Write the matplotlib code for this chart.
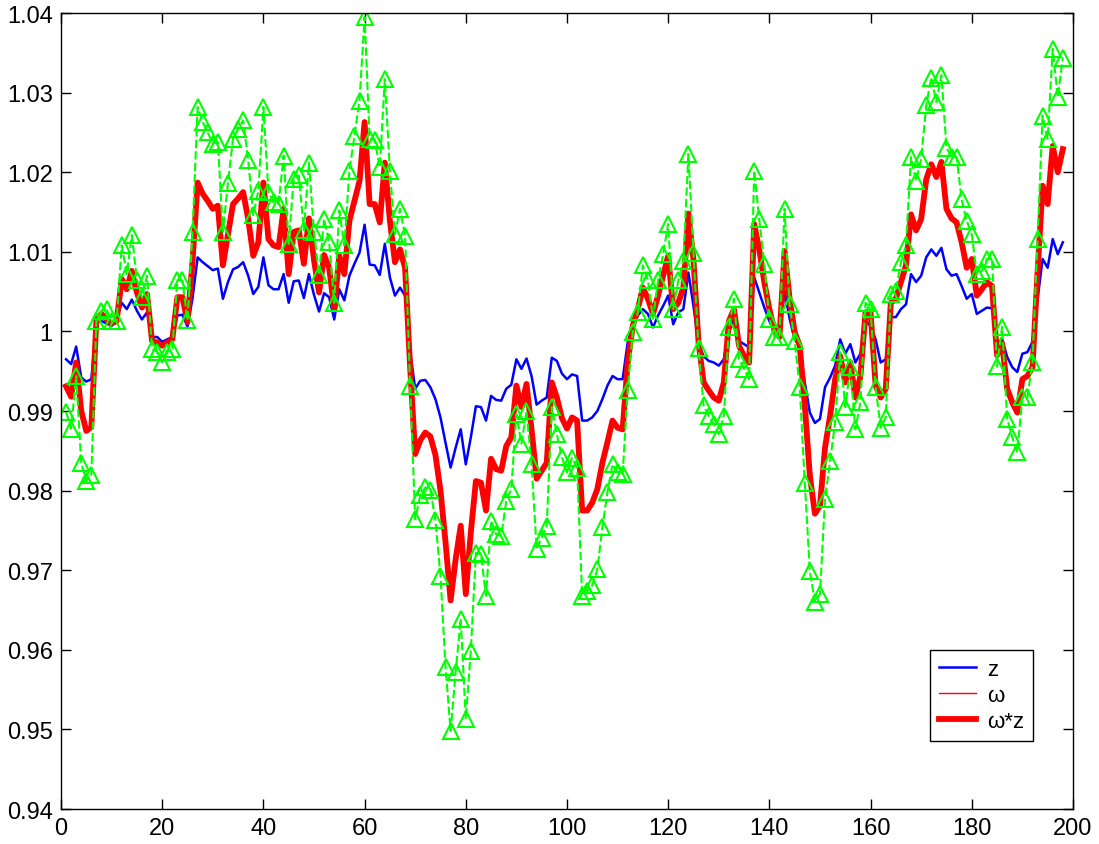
import numpy as np
import matplotlib
matplotlib.use("Agg")
import matplotlib.pyplot as plt

# values, sample index 1..198
z = [0.9965, 0.9959, 0.9981, 0.9942, 0.9937, 0.9940, 1.0011, 1.0013, 1.0010, 1.0007,
     1.0015, 1.0036, 1.0028, 1.0040, 1.0026, 1.0015, 1.0024, 0.9993, 0.9993, 0.9987,
     0.9990, 0.9993, 1.0020, 1.0021, 1.0006, 1.0042, 1.0093, 1.0087, 1.0082, 1.0077,
     1.0079, 1.0041, 1.0062, 1.0078, 1.0081, 1.0087, 1.0070, 1.0047, 1.0056, 1.0093,
     1.0058, 1.0053, 1.0053, 1.0072, 1.0036, 1.0063, 1.0064, 1.0042, 1.0072, 1.0046,
     1.0025, 1.0048, 1.0043, 1.0015, 1.0053, 1.0039, 1.0070, 1.0085, 1.0099, 1.0134,
     1.0084, 1.0083, 1.0071, 1.0110, 1.0068, 1.0045, 1.0055, 1.0045, 0.9975, 0.9928,
     0.9938, 0.9939, 0.9930, 0.9915, 0.9892, 0.9860, 0.9829, 0.9854, 0.9877, 0.9833,
     0.9867, 0.9906, 0.9905, 0.9888, 0.9919, 0.9914, 0.9913, 0.9928, 0.9933, 0.9965,
     0.9953, 0.9966, 0.9944, 0.9908, 0.9913, 0.9917, 0.9967, 0.9963, 0.9947, 0.9940,
     0.9946, 0.9944, 0.9888, 0.9888, 0.9892, 0.9900, 0.9915, 0.9932, 0.9944, 0.9940,
     0.9940, 0.9986, 1.0007, 1.0020, 1.0028, 1.0022, 1.0005, 1.0020, 1.0032, 1.0045,
     1.0009, 1.0024, 1.0028, 1.0074, 1.0032, 0.9984, 0.9969, 0.9963, 0.9961, 0.9957,
     0.9965, 0.9999, 1.0015, 0.9988, 0.9984, 0.9980, 1.0068, 1.0049, 1.0030, 1.0013,
     0.9999, 0.9993, 1.0051, 1.0016, 0.9990, 0.9982, 0.9936, 0.9898, 0.9885, 0.9890,
     0.9930, 0.9942, 0.9957, 0.9990, 0.9972, 0.9984, 0.9961, 0.9972, 1.0013, 1.0007,
     0.9990, 0.9961, 0.9965, 1.0018, 1.0018, 1.0028, 1.0034, 1.0072, 1.0062, 1.0070,
     1.0093, 1.0103, 1.0095, 1.0105, 1.0078, 1.0070, 1.0072, 1.0057, 1.0041, 1.0047,
     1.0022, 1.0026, 1.0030, 1.0029, 0.9986, 0.9990, 0.9968, 0.9955, 0.9949, 0.9972,
     0.9974, 0.9987, 1.0040, 1.0091, 1.0080, 1.0116, 1.0097, 1.0112]

wz = [0.9931, 0.9918, 0.9961, 0.9900, 0.9875, 0.9880, 1.0015, 1.0022, 1.0015, 1.0010,
      1.0013, 1.0066, 1.0053, 1.0076, 1.0049, 1.0030, 1.0047, 0.9988, 0.9986, 0.9982,
      0.9986, 0.9990, 1.0043, 1.0043, 1.0012, 1.0088, 1.0187, 1.0173, 1.0164, 1.0154,
      1.0158, 1.0083, 1.0122, 1.0160, 1.0167, 1.0175, 1.0141, 1.0095, 1.0112, 1.0187,
      1.0116, 1.0108, 1.0106, 1.0154, 1.0072, 1.0125, 1.0127, 1.0085, 1.0142, 1.0090,
      1.0049, 1.0096, 1.0080, 1.0028, 1.0095, 1.0072, 1.0139, 1.0164, 1.0189, 1.0263,
      1.0160, 1.0160, 1.0137, 1.0212, 1.0139, 1.0087, 1.0103, 1.0080, 0.9955, 0.9846,
      0.9863, 0.9873, 0.9868, 0.9845, 0.9800, 0.9735, 0.9662, 0.9714, 0.9756, 0.9670,
      0.9748, 0.9812, 0.9810, 0.9775, 0.9840, 0.9827, 0.9825, 0.9856, 0.9867, 0.9932,
      0.9905, 0.9934, 0.9877, 0.9815, 0.9825, 0.9835, 0.9936, 0.9917, 0.9891, 0.9878,
      0.9892, 0.9888, 0.9775, 0.9775, 0.9785, 0.9802, 0.9835, 0.9861, 0.9888, 0.9879,
      0.9877, 0.9961, 1.0007, 1.0028, 1.0055, 1.0041, 1.0022, 1.0045, 1.0070, 1.0095,
      1.0028, 1.0036, 1.0055, 1.0148, 1.0090, 0.9986, 0.9936, 0.9926, 0.9917, 0.9913,
      0.9936, 1.0013, 1.0028, 0.9982, 0.9969, 0.9961, 1.0135, 1.0103, 1.0062, 1.0028,
      1.0001, 0.9993, 1.0101, 1.0041, 0.9999, 0.9982, 0.9907, 0.9819, 0.9771, 0.9781,
      0.9854, 0.9894, 0.9940, 0.9969, 0.9936, 0.9961, 0.9917, 0.9944, 1.0024, 1.0024,
      0.9932, 0.9917, 0.9928, 1.0036, 1.0041, 1.0062, 1.0083, 1.0147, 1.0127, 1.0141,
      1.0191, 1.0210, 1.0194, 1.0213, 1.0154, 1.0142, 1.0137, 1.0112, 1.0080, 1.0091,
      1.0045, 1.0053, 1.0062, 1.0057, 0.9970, 0.9985, 0.9928, 0.9911, 0.9898, 0.9940,
      0.9944, 0.9955, 1.0074, 1.0183, 1.0160, 1.0233, 1.0200, 1.0229]

g = [0.9899, 0.9878, 0.9944, 0.9835, 0.9812, 0.9820, 1.0013, 1.0026, 1.0028, 1.0013,
     1.0013, 1.0108, 1.0072, 1.0121, 1.0065, 1.0043, 1.0070, 0.9978, 0.9974, 0.9961,
     0.9974, 0.9978, 1.0064, 1.0064, 1.0014, 1.0125, 1.0282, 1.0263, 1.0250, 1.0236,
     1.0238, 1.0125, 1.0187, 1.0242, 1.0254, 1.0265, 1.0215, 1.0146, 1.0177, 1.0282,
     1.0175, 1.0162, 1.0160, 1.0221, 1.0110, 1.0192, 1.0196, 1.0127, 1.0212, 1.0125,
     1.0071, 1.0141, 1.0112, 1.0036, 1.0152, 1.0108, 1.0202, 1.0246, 1.0290, 1.0395,
     1.0242, 1.0240, 1.0206, 1.0317, 1.0202, 1.0122, 1.0154, 1.0120, 0.9932, 0.9764,
     0.9794, 0.9804, 0.9801, 0.9763, 0.9693, 0.9578, 0.9498, 0.9572, 0.9639, 0.9513,
     0.9599, 0.9722, 0.9720, 0.9668, 0.9762, 0.9745, 0.9743, 0.9787, 0.9802, 0.9896,
     0.9859, 0.9900, 0.9833, 0.9727, 0.9741, 0.9756, 0.9905, 0.9871, 0.9842, 0.9823,
     0.9841, 0.9829, 0.9668, 0.9674, 0.9681, 0.9701, 0.9754, 0.9798, 0.9833, 0.9823,
     0.9821, 0.9926, 0.9999, 1.0024, 1.0083, 1.0064, 1.0016, 1.0064, 1.0097, 1.0135,
     1.0028, 1.0064, 1.0089, 1.0223, 1.0099, 0.9979, 0.9907, 0.9894, 0.9884, 0.9871,
     0.9894, 1.0005, 1.0041, 0.9965, 0.9953, 0.9940, 1.0202, 1.0141, 1.0085, 1.0016,
     0.9993, 0.9993, 1.0154, 1.0034, 0.9988, 0.9930, 0.9810, 0.9699, 0.9660, 0.9670,
     0.9790, 0.9837, 0.9886, 0.9974, 0.9905, 0.9955, 0.9877, 0.9911, 1.0036, 1.0028,
     0.9930, 0.9879, 0.9892, 1.0047, 1.0051, 1.0087, 1.0108, 1.0219, 1.0189, 1.0217,
     1.0284, 1.0319, 1.0288, 1.0322, 1.0231, 1.0219, 1.0219, 1.0166, 1.0139, 1.0122,
     1.0072, 1.0076, 1.0091, 1.0091, 0.9956, 1.0006, 0.9890, 0.9867, 0.9848, 0.9917,
     0.9917, 0.9961, 1.0116, 1.0271, 1.0242, 1.0355, 1.0294, 1.0344]

n = np.arange(1, len(z) + 1)

plt.rcParams['font.family'] = ['Liberation Sans', 'DejaVu Sans']

fig = plt.figure(figsize=(10.99, 8.45), dpi=100)
ax = fig.add_axes([0.0555, 0.0414, 0.9208, 0.942])

ax.plot(n, z, color='blue', lw=1.8, label='z')
ax.plot(n, wz, color='red', lw=1.0, label='ω')       # thin line sits under the thick one
ax.plot(n, wz, color='red', lw=4.2, label='ω*z')
ax.plot(n, g, color=(0, 1, 0), lw=1.5, ls=(0, (4, 1.5)), marker='^',
        markersize=11, markerfacecolor='none', markeredgewidth=1.5)

ax.set_xlim(0, 200)
ax.set_ylim(0.94, 1.04)
ax.set_xticks(np.arange(0, 201, 20))
ax.set_yticks(np.arange(0.94, 1.0401, 0.01))
ax.set_yticklabels(['0.94', '0.95', '0.96', '0.97', '0.98', '0.99', '1',
                    '1.01', '1.02', '1.03', '1.04'])
ax.tick_params(direction='in', length=7, width=1, top=True, right=True,
               labelsize=17, pad=6)
for s in ax.spines.values():
    s.set_linewidth(1)

# legend only lists the three red/blue lines
h, l = ax.get_legend_handles_labels()
leg = ax.legend(h[:3], l[:3], loc='lower right', bbox_to_anchor=(0.94, 0.122),
                bbox_transform=fig.transFigure, fontsize=16, frameon=True,
                fancybox=False, edgecolor='black', framealpha=1,
                handlelength=1.65, handletextpad=0.5, borderpad=0.4,
                labelspacing=0.22, borderaxespad=0)
leg.get_frame().set_linewidth(1)

fig.savefig('out.png', dpi=100)
